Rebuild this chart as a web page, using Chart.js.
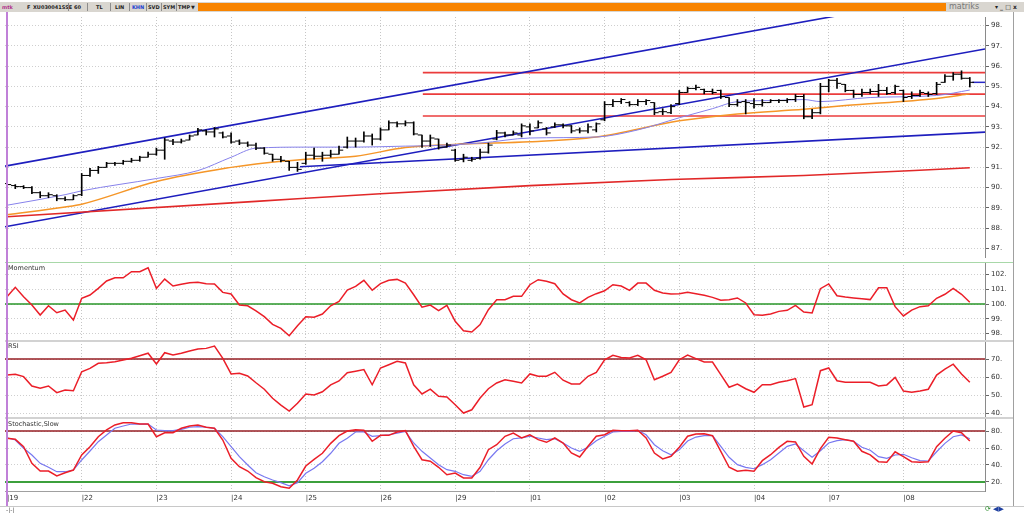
<!DOCTYPE html>
<html>
<head>
<meta charset="utf-8">
<script src="https://cdn.jsdelivr.net/npm/chart.js@4.4.0/dist/chart.umd.min.js"></script>
<style>
  body { margin: 0; width: 1024px; height: 513px; overflow: hidden; background: #fff; position: relative; font-family: "DejaVu Sans", sans-serif; }
  canvas { position: absolute; left: 0; }
  .abs { position: absolute; }
  #tb { left: 0; top: 2px; width: 1024px; height: 10px; background: #d9d6d0; }
  #tb span { position: absolute; top: 1px; font-size: 5px; line-height: 8px; color: #222; font-weight: bold; white-space: nowrap; }
  .sep { position: absolute; top: 1px; width: 1px; height: 8px; background: #8c8c8c; }
  .title { position: absolute; left: 8px; font-size: 6.5px; color: #333; }
</style>
</head>
<body>

<div id="tb" class="abs">
  <span style="left:2px;color:#b0308a">mtk</span>
  <span style="left:27px">F</span>
  <span style="left:33px">XU030041SSE</span><div class="sep" style="left:68px"></div>
  <span style="left:74px">60</span><div class="sep" style="left:87px"></div>
  <span style="left:96px">TL</span><div class="sep" style="left:110px"></div>
  <span style="left:115px">LIN</span><div class="sep" style="left:129px"></div>
  <span style="left:132px;color:#2040d0">KHN</span><div class="sep" style="left:146px"></div>
  <span style="left:148px">SVD</span><div class="sep" style="left:161px"></div>
  <span style="left:163px">SYM</span><div class="sep" style="left:176px"></div>
  <span style="left:178px">TMP</span>
  <span style="left:191px">&#9660;</span>
  <div class="abs" style="left:198px;top:1px;width:748px;height:8px;background:#f88400"></div>
  <span style="left:949px;font-weight:normal;font-size:8px;color:#777">matriks</span>
  <span style="left:995px;font-size:6px">&#9662; _ &#9633; x</span>
</div>

<canvas id="priceChart" width="1024" height="250" style="top:12px"></canvas>
<canvas id="momChart" width="1024" height="79" style="top:262px"></canvas>
<canvas id="rsiChart" width="1024" height="78" style="top:341px"></canvas>
<canvas id="stochChart" width="1024" height="94" style="top:419px"></canvas>

<div class="abs" style="left:5px;top:262px;width:1008px;height:1px;background:#a8d8a8"></div>
<div class="abs" style="left:5px;top:340px;width:1008px;height:2px;background:#d2d2d2"></div>
<div class="abs" style="left:5px;top:417px;width:1008px;height:2px;background:#d2d2d2"></div>
<div class="abs" style="left:6px;top:12px;width:2px;height:494px;background:#c080d8"></div>
<div class="abs" style="left:1013px;top:12px;width:1px;height:494px;background:#a0a0a0"></div>
<div class="abs" style="left:0;top:506px;width:1024px;height:1px;background:#c8c8c8"></div>

<div class="title" style="top:264px">Momentum</div>
<div class="title" style="top:342px">RSI</div>
<div class="title" style="top:420px">Stochastic,Slow</div>
<div class="abs" style="left:6px;top:506px;font-size:6px;color:#555">-|-|</div>
<div class="abs" style="left:985px;top:505px;font-size:7px;color:#2a8a2a">&#10227; <span style="color:#2040a0">&#9664;&#9654;</span></div>

<script>
// day labels on the time axis, 9 hourly bars per day
const days = ['19', '22', '23', '24', '25', '26', '29', '01', '02', '03', '04', '07', '08'];
const barsPerDay = 9;
const dayStarts = days.map((d, k) => k * barsPerDay);

// hourly OHLC bars
const opens = [90.2, 90.1, 90.05, 90.0, 89.75, 89.6, 89.6, 89.45, 89.4,
  89.65, 90.6, 90.85, 91.0, 91.2, 91.2, 91.3, 91.35, 91.5,
  91.65, 91.85, 92.3, 92.25, 92.35, 92.6, 92.8, 92.75, 92.7,
  92.55, 92.3, 92.2, 92.1, 91.95, 91.65, 91.4, 91.3, 91.0,
  91.2, 91.6, 91.55, 91.6, 91.65, 92.0, 92.3, 92.3, 92.55,
  92.4, 92.85, 93.2, 93.15, 93.2, 92.6, 92.3, 92.4, 92.0,
  91.85, 91.4, 91.35, 91.45, 91.75, 92.4, 92.7, 92.6, 92.6,
  93.0, 92.95, 92.9, 93.0, 93.1, 93.05, 92.85, 92.8, 92.85,
  93.35, 94.1, 94.25, 94.2, 94.1, 94.25, 94.2, 93.75, 93.7,
  94.15, 94.7, 94.9, 94.85, 94.75, 94.8, 94.45, 94.1, 94.25,
  94.15, 94.1, 94.2, 94.3, 94.3, 94.35, 94.5, 93.5, 93.7,
  95.0, 95.3, 95.1, 94.8, 94.6, 94.7, 94.75, 94.8, 94.7,
  94.8, 94.5, 94.55, 94.65, 94.65, 95.2, 95.5, 95.6, 95.4];
const highs = [90.25, 90.15, 90.1, 90.05, 89.8, 89.75, 89.65, 89.55, 89.65,
  90.7, 90.95, 91.05, 91.25, 91.25, 91.35, 91.45, 91.55, 91.75,
  91.95, 92.45, 92.38, 92.4, 92.6, 92.93, 92.85, 92.97, 92.75,
  92.7, 92.36, 92.26, 92.2, 91.98, 91.65, 91.55, 91.3, 91.25,
  91.75, 91.95, 91.75, 91.85, 92.05, 92.5, 92.45, 92.75, 92.65,
  92.95, 93.3, 93.25, 93.3, 93.25, 92.6, 92.6, 92.4, 92.2,
  91.9, 91.65, 91.5, 91.9, 92.2, 92.83, 92.74, 92.8, 93.15,
  93.15, 93.3, 92.97, 93.2, 93.15, 93.07, 92.95, 93.15, 93.2,
  94.25, 94.35, 94.4, 94.25, 94.35, 94.35, 94.2, 93.9, 94.1,
  94.8, 94.97, 95.06, 94.87, 94.87, 94.82, 94.45, 94.35, 94.35,
  94.4, 94.35, 94.35, 94.35, 94.4, 94.6, 94.6, 93.87, 95.15,
  95.35, 95.4, 95.1, 94.82, 94.87, 94.87, 95.1, 94.95, 95.06,
  94.82, 94.73, 94.82, 94.73, 95.2, 95.58, 95.68, 95.77, 95.44];
const lows = [90.05, 89.95, 89.95, 89.7, 89.5, 89.5, 89.35, 89.35, 89.4,
  89.6, 90.55, 90.7, 91.0, 91.1, 91.15, 91.25, 91.3, 91.5,
  91.6, 91.4, 92.12, 92.2, 92.35, 92.6, 92.6, 92.5, 92.45,
  92.2, 92.12, 92.03, 91.88, 91.65, 91.3, 91.27, 90.85, 90.8,
  91.15, 91.4, 91.3, 91.5, 91.65, 91.95, 92.0, 92.25, 92.1,
  92.35, 92.85, 93.0, 93.05, 92.6, 91.98, 92.03, 91.9, 92.0,
  91.3, 91.27, 91.3, 91.4, 91.7, 92.36, 92.5, 92.6, 92.5,
  92.6, 92.95, 92.6, 92.97, 92.95, 92.7, 92.7, 92.7, 92.75,
  93.3, 94.0, 94.15, 94.02, 94.05, 94.1, 93.6, 93.6, 93.65,
  94.1, 94.7, 94.82, 94.63, 94.63, 94.4, 94.0, 94.02, 93.64,
  93.92, 94.02, 94.2, 94.2, 94.2, 94.25, 93.4, 93.4, 93.64,
  94.73, 94.9, 94.73, 94.45, 94.5, 94.63, 94.5, 94.6, 94.63,
  94.25, 94.4, 94.5, 94.5, 94.6, 95.2, 95.3, 95.35, 94.97];
const closes = [90.15, 90.05, 90.0, 89.75, 89.6, 89.65, 89.45, 89.4, 89.6,
  90.6, 90.85, 91.0, 91.2, 91.2, 91.3, 91.35, 91.5, 91.65,
  91.85, 92.35, 92.25, 92.3, 92.55, 92.85, 92.75, 92.9, 92.5,
  92.25, 92.2, 92.1, 91.95, 91.7, 91.4, 91.35, 91.0, 90.9,
  91.6, 91.55, 91.6, 91.65, 91.85, 92.3, 92.3, 92.55, 92.4,
  92.85, 93.2, 93.15, 93.2, 92.65, 92.3, 92.45, 92.0, 92.1,
  91.35, 91.5, 91.4, 91.75, 92.1, 92.7, 92.6, 92.7, 93.05,
  92.8, 93.2, 92.7, 93.1, 93.05, 92.8, 92.8, 93.0, 93.15,
  94.1, 94.25, 94.35, 94.1, 94.25, 94.3, 93.7, 93.75, 94.0,
  94.7, 94.9, 94.95, 94.75, 94.7, 94.5, 94.1, 94.2, 94.2,
  94.1, 94.2, 94.3, 94.3, 94.35, 94.5, 93.5, 93.7, 95.0,
  95.3, 95.15, 94.8, 94.6, 94.7, 94.75, 94.8, 94.65, 95.0,
  94.45, 94.55, 94.7, 94.6, 95.1, 95.5, 95.6, 95.4, 95.2];

// moving averages, read at a few bars
const maFastIdx = [0, 7, 9, 18, 23, 27, 30, 36, 42, 48, 51, 57, 63, 71, 76, 81, 85, 88, 92, 96, 98, 104, 112, 116];
const maFastVal = [89.13, 89.65, 89.84, 90.45, 90.84, 91.5, 91.95, 92.0, 92.0, 92.05, 92.07, 92.2, 92.45, 92.5, 92.85, 93.45, 93.9, 94.25, 94.3, 94.35, 94.25, 94.45, 94.55, 94.82];
const maMidIdx = [0, 7, 9, 18, 27, 30, 36, 42, 48, 55, 63, 71, 81, 88, 96, 101, 112, 116];
const maMidVal = [88.66, 89.04, 89.18, 90.3, 91.0, 91.17, 91.4, 91.55, 91.98, 92.15, 92.26, 92.5, 93.3, 93.64, 93.87, 94.05, 94.4, 94.63];
const maLongIdx = [0, 30, 45, 63, 80, 96, 116];
const maLongVal = [88.56, 89.32, 89.7, 90.1, 90.4, 90.6, 90.98];

// trend lines [startBar, startValue, endBar, endValue]
const channelTop = [-0.24, 91.06, 117.83, 99.81];
const channelBottom = [-0.24, 88.07, 117.83, 96.85];
const supportLine = [35.3, 91.03, 117.83, 92.74];
const levelsFrom = 50.1;
const levels = [95.68, 94.62, 93.54];
const lastPrice = 95.2;

// indicators
const momentum = [100.49, 101.13, 100.49, 99.93, 99.25, 99.88, 99.41, 99.59, 98.92, 100.39,
  100.61, 101.06, 101.56, 101.78, 101.78, 102.19, 102.19, 102.46, 101.06, 101.69,
  101.22, 101.34, 101.44, 101.47, 101.38, 101.36, 100.79, 100.68, 99.93, 99.88,
  99.53, 99.14, 98.62, 98.35, 97.85, 98.53, 99.14, 99.10, 99.32, 99.88,
  100.17, 100.94, 101.2, 101.61, 100.93, 101.38, 101.61, 101.67, 101.42, 100.63,
  99.78, 99.93, 99.55, 99.91, 98.83, 98.19, 98.1, 98.6, 99.61, 100.29,
  100.29, 100.52, 100.52, 101.31, 101.65, 101.54, 101.38, 100.68, 100.29, 100.07,
  100.45, 100.7, 100.9, 101.31, 101.22, 100.93, 101.42, 101.42, 100.93, 100.75,
  100.68, 100.7, 100.79, 100.7, 100.59, 100.45, 100.25, 100.29, 100.41, 100.07,
  99.27, 99.23, 99.32, 99.5, 99.57, 99.91, 99.46, 99.39, 101.04, 101.36,
  100.56, 100.47, 100.41, 100.36, 100.3, 101.1, 101.1, 99.82, 99.19, 99.59,
  99.82, 99.88, 100.39, 100.66, 101.06, 100.66, 100.12];
const rsi = [61.1, 61.5, 60.2, 55.0, 53.7, 55.0, 51.3, 52.8, 52.4, 62.9,
  64.8, 67.6, 67.9, 68.5, 69.4, 70.4, 71.8, 73.2, 67.2, 73.5,
  72.2, 73.2, 74.4, 75.6, 75.9, 77.2, 70.4, 61.7, 62.1, 60.6,
  56.8, 53.2, 48.2, 44.4, 41.1, 45.4, 50.6, 50.0, 51.8, 55.6,
  57.8, 62.4, 63.2, 64.1, 55.7, 65.0, 66.8, 68.7, 67.8, 55.7,
  50.6, 53.3, 49.3, 48.9, 44.6, 40.0, 41.8, 48.3, 53.5, 56.7,
  58.5, 57.6, 56.7, 61.7, 60.4, 60.4, 62.6, 58.2, 56.1, 56.1,
  60.4, 62.6, 69.6, 72.1, 70.9, 70.6, 72.1, 69.6, 58.5, 60.4,
  62.6, 69.6, 72.2, 70.2, 68.3, 68.3, 61.3, 54.3, 56.1, 53.5,
  51.5, 55.7, 55.7, 57.1, 57.9, 59.1, 43.3, 44.6, 63.5, 65.0,
  57.9, 57.1, 57.1, 57.1, 57.1, 55.0, 55.6, 59.8, 52.2, 51.5,
  52.2, 53.2, 61.1, 64.4, 67.1, 61.7, 57.1];
const stochK = [71.4, 70.2, 61.5, 42.0, 32.9, 32.9, 27.1, 30.9, 34.1, 51.8,
  61.5, 73.3, 81.2, 87.1, 89.8, 89.8, 88.2, 88.2, 73.3, 78.0,
  78.0, 83.2, 85.9, 87.1, 84.4, 83.2, 69.4, 47.9, 38.0, 32.9,
  25.1, 20.4, 18.5, 14.5, 12.6, 22.4, 38.8, 46.7, 53.8, 65.5,
  74.5, 80.0, 81.5, 80.8, 67.9, 74.9, 74.9, 78.8, 80.4, 62.0,
  46.2, 44.4, 37.3, 28.6, 30.6, 24.7, 24.7, 37.3, 58.0, 63.9,
  73.8, 77.6, 71.8, 75.6, 69.8, 66.7, 71.8, 65.9, 54.1, 49.4,
  62.0, 73.8, 75.6, 80.8, 80.4, 80.4, 80.8, 71.8, 54.1, 47.1,
  50.2, 61.0, 73.8, 76.5, 76.8, 74.5, 56.1, 37.3, 32.6, 33.8,
  32.6, 45.1, 52.1, 60.8, 67.9, 67.1, 50.2, 41.2, 59.2, 72.6,
  71.8, 69.8, 67.9, 56.1, 52.0, 43.9, 43.2, 55.6, 49.8, 43.9,
  43.2, 43.9, 61.5, 71.4, 80.0, 78.0, 68.2];
const stochD = [72.1, 69.4, 59.6, 51.8, 42.0, 37.3, 32.1, 32.1, 34.1, 45.9,
  56.5, 67.4, 75.3, 83.2, 85.9, 88.2, 88.2, 88.2, 81.2, 80.4,
  80.4, 82.0, 84.4, 85.1, 84.4, 83.2, 73.3, 61.5, 49.8, 40.0,
  30.9, 26.2, 22.4, 19.2, 15.6, 19.2, 30.2, 36.1, 43.9, 53.8,
  65.5, 71.4, 78.8, 78.8, 73.8, 74.5, 75.6, 77.6, 79.6, 65.9,
  56.1, 48.2, 40.4, 34.5, 32.6, 28.6, 26.7, 32.6, 46.2, 56.8,
  64.7, 70.9, 71.8, 73.8, 71.8, 69.8, 70.9, 65.9, 60.0, 56.1,
  60.8, 68.6, 73.8, 78.8, 79.6, 79.6, 80.8, 75.6, 63.9, 56.8,
  52.1, 58.0, 68.2, 72.9, 74.5, 74.5, 62.0, 49.1, 40.4, 37.3,
  35.6, 40.4, 46.2, 54.1, 62.0, 64.7, 56.8, 49.1, 56.8, 65.9,
  68.6, 69.8, 67.9, 60.8, 57.3, 49.8, 47.9, 51.8, 52.6, 48.6,
  45.1, 44.7, 55.6, 65.5, 73.3, 75.3, 70.9];
const momentumBase = 100;
const rsiUpper = 70;
const stochUpper = 80;
const stochLower = 20;

const X_MIN = -0.24, X_MAX = 117.83;
const FONT = 'DejaVu Sans';

const pts = arr => arr.map((v, i) => ({ x: i, y: v }));
const sparse = (idx, vals) => idx.map((x, k) => ({ x: x, y: vals[k] }));
const seg = s => [{ x: s[0], y: s[1] }, { x: s[2], y: s[3] }];
const flat = (v, from) => [{ x: from, y: v }, { x: X_MAX, y: v }];

function line(data, color, width, extra) {
  return Object.assign({ type: 'line', data: data, borderColor: color, borderWidth: width,
    pointRadius: 0, fill: false, tension: 0 }, extra || {});
}

function xAxis(withLabels) {
  return {
    type: 'linear', min: X_MIN, max: X_MAX, offset: false,
    afterBuildTicks: s => { s.ticks = dayStarts.map(v => ({ value: v })); },
    afterFit: s => { s.height = withLabels ? 22 : 0; s.paddingLeft = 0; s.paddingRight = 0; },
    ticks: { display: withLabels, autoSkip: false, maxRotation: 0, align: 'start', padding: 3,
      color: '#333', font: { family: FONT, size: 7 },
      callback: v => '|' + days[dayStarts.indexOf(v)] },
    grid: { color: '#c6c6c6', drawTicks: false, offset: false },
    border: { display: withLabels, color: '#a0a0a0', dash: [1, 2] }
  };
}

function yAxis(min, max, tickValues) {
  return {
    position: 'right', min: min, max: max, beginAtZero: false,
    afterBuildTicks: s => { s.ticks = tickValues.map(v => ({ value: v })); },
    afterFit: s => { s.width = 39; s.paddingTop = 0; s.paddingBottom = 0; },
    ticks: { color: '#333', padding: 2, font: { family: FONT, size: 7 }, callback: v => v + '.' },
    grid: { color: '#cfcfcf', tickLength: 4, tickColor: '#666' },
    border: { color: '#8a8a8a', dash: [1, 2] }
  };
}

function options(yMin, yMax, yTicks, withLabels) {
  return {
    responsive: false, animation: false, events: [],
    layout: { padding: { left: 5, right: 0, top: 0, bottom: 0 } },
    plugins: { legend: { display: false }, tooltip: { enabled: false } },
    scales: { x: xAxis(withLabels), y: yAxis(yMin, yMax, yTicks) }
  };
}

// price panel
const priceTicks = [87, 88, 89, 90, 91, 92, 93, 94, 95, 96, 97, 98];
const tickStyle = { type: 'line', showLine: false, pointStyle: 'line', pointRadius: 2,
  pointBorderWidth: 1, pointBorderColor: '#000' };
new Chart(document.getElementById('priceChart'), {
  type: 'bar',
  data: {
    datasets: [
      Object.assign({ data: opens.map((v, i) => ({ x: i - 0.27, y: v })) }, tickStyle),
      Object.assign({ data: closes.map((v, i) => ({ x: i + 0.27, y: v })) }, tickStyle),
      { type: 'bar', data: highs.map((h, i) => ({ x: i, y: [lows[i], h] })),
        backgroundColor: '#000', barThickness: 1, grouped: false },
      line(sparse(maFastIdx, maFastVal), 'rgb(135,130,235)', 1, { cubicInterpolationMode: 'monotone' }),
      line(sparse(maMidIdx, maMidVal), 'rgb(245,150,40)', 1.5, { cubicInterpolationMode: 'monotone' }),
      line(sparse(maLongIdx, maLongVal), 'rgb(225,40,40)', 1.6, { cubicInterpolationMode: 'monotone' }),
      line(seg(channelTop), 'rgb(30,30,190)', 1.6),
      line(seg(channelBottom), 'rgb(30,30,190)', 1.6),
      line(seg(supportLine), 'rgb(30,30,190)', 1.6),
      line(flat(levels[0], levelsFrom), 'rgb(235,60,60)', 1.6),
      line(flat(levels[1], levelsFrom), 'rgb(235,60,60)', 1.6),
      line(flat(levels[2], levelsFrom), 'rgb(235,60,60)', 1.6),
      line(flat(lastPrice, 116.3), 'rgb(40,40,200)', 1.5)
    ]
  },
  options: options(86.573, 98.427, priceTicks, false)
});

// momentum panel
new Chart(document.getElementById('momChart'), {
  type: 'line',
  data: {
    datasets: [
      line(pts(momentum), 'rgb(235,30,40)', 1.5),
      line(flat(momentumBase, X_MIN), 'rgb(40,150,40)', 1.6)
    ]
  },
  options: options(97.49, 102.85, [98, 99, 100, 101, 102], false)
});

// RSI panel
new Chart(document.getElementById('rsiChart'), {
  type: 'line',
  data: {
    datasets: [
      line(pts(rsi), 'rgb(235,30,40)', 1.5),
      line(flat(rsiUpper, X_MIN), 'rgb(150,30,35)', 1.5)
    ]
  },
  options: options(36.67, 80, [40, 50, 60, 70], false)
});

// stochastic panel with the time axis
new Chart(document.getElementById('stochChart'), {
  type: 'line',
  data: {
    datasets: [
      line(pts(stochK), 'rgb(235,30,40)', 1.5),
      line(pts(stochD), 'rgb(120,120,240)', 1.2),
      line(flat(stochUpper, X_MIN), 'rgb(150,30,35)', 1.5),
      line(flat(stochLower, X_MIN), 'rgb(60,160,60)', 2)
    ]
  },
  options: options(9.41, 94.12, [20, 40, 60, 80], true)
});
</script>
</body>
</html>
